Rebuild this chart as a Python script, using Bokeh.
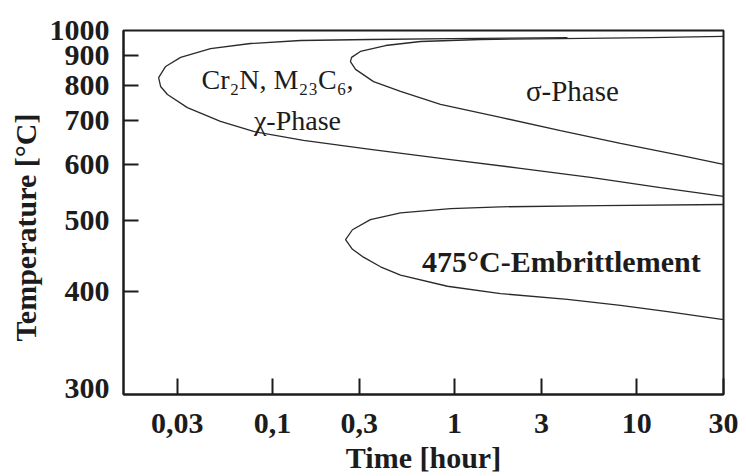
import numpy as np
from bokeh.plotting import figure
from bokeh.models import Range1d, FixedTicker, CustomJSTickFormatter, Label
from bokeh.embed import file_html
from bokeh.resources import INLINE

# ---- data ----
time_ticks = [0.03, 0.1, 0.3, 1, 3, 10, 30]
temp_ticks = [300, 400, 500, 600, 700, 800, 900, 1000]

# Cr2N, M23C6, chi-phase C-curve (top branch -> nose -> lower branch)
chi_time = [4.17, 0.95, 0.345, 0.1425, 0.0757, 0.0457, 0.0313, 0.0259, 0.0237,
            0.0243, 0.0265, 0.0341, 0.0518, 0.0787, 0.148, 0.345, 0.95, 2.30,
            5.58, 13.5, 30]
chi_temp = [970, 966, 962, 958, 946, 926, 893, 861, 824,
            796, 772, 735, 699, 674, 653, 633, 611, 593,
            575, 556, 540]

# sigma-phase C-curve
sig_time = [30, 11.9, 3.82, 1.39, 0.65, 0.418, 0.304, 0.272, 0.268,
            0.286, 0.359, 0.505, 0.837, 1.79, 3.82, 8.15, 17.4, 30]
sig_temp = [975, 970, 966, 962, 954, 938, 915, 893, 878,
            851, 811, 781, 744, 709, 676, 646, 620, 601]

# 475 °C embrittlement C-curve
emb_time = [30, 6.33, 1.79, 0.95, 0.505, 0.345, 0.275, 0.252,
            0.275, 0.316, 0.392, 0.505, 0.914, 1.79, 4.17, 8.15, 14.8, 30]
emb_temp = [526, 524, 522, 519, 512, 501, 485, 470,
            456, 445, 432, 421, 407, 398, 391, 384, 377, 368]


def inv_t(t):
    """Reciprocal absolute temperature scale (10^4 / K)."""
    return 1e4 / (np.asarray(t, dtype=float) + 273.0)


INK = "#1c1c1c"
SERIF = "Liberation Serif"

p = figure(width=746, height=476, x_axis_type="log",
           x_range=Range1d(0.0152, 30),
           y_range=Range1d(float(inv_t(295)), float(inv_t(1000))),
           output_backend="svg", toolbar_location=None,
           min_border_left=123, min_border_right=23,
           min_border_top=30, min_border_bottom=81,
           background_fill_color="white", border_fill_color="white")

p.outline_line_color = INK
p.outline_line_width = 2
p.xgrid.visible = False
p.ygrid.visible = False

for t, T in [(chi_time, chi_temp), (sig_time, sig_temp), (emb_time, emb_temp)]:
    p.line(t, inv_t(T), line_color="#2a2a2a", line_width=1.3)

# x axis
xa = p.xaxis[0]
xa.ticker = FixedTicker(ticks=time_ticks, minor_ticks=[])
xa.formatter = CustomJSTickFormatter(code="return String(tick).replace('.', ',');")
xa.axis_line_color = INK
xa.axis_line_width = 2
xa.major_tick_in = 16
xa.major_tick_out = 0
xa.major_tick_line_width = 2
xa.major_tick_line_color = INK
xa.minor_tick_line_color = None
xa.major_label_standoff = 19
xa.major_label_text_font = SERIF
xa.major_label_text_font_style = "bold"
xa.major_label_text_font_size = "30px"
xa.major_label_text_color = INK
xa.axis_label = "Time [hour]"
xa.axis_label_standoff = 5
xa.axis_label_text_font = SERIF
xa.axis_label_text_font_style = "bold"
xa.axis_label_text_font_size = "30px"
xa.axis_label_text_color = INK

# y axis (labels at every temperature, tick marks inside for the inner ones)
ya = p.yaxis[0]
ya.ticker = FixedTicker(ticks=list(inv_t(temp_ticks)),
                        minor_ticks=list(inv_t(temp_ticks[1:-1])))
ya.formatter = CustomJSTickFormatter(code="return String(Math.round(1e4 / tick - 273));")
ya.axis_line_color = INK
ya.axis_line_width = 2
ya.major_tick_in = 0
ya.major_tick_out = 0
ya.minor_tick_in = 15
ya.minor_tick_out = 0
ya.minor_tick_line_width = 2
ya.minor_tick_line_color = INK
ya.major_label_standoff = 14
ya.major_label_text_font = SERIF
ya.major_label_text_font_style = "bold"
ya.major_label_text_font_size = "30px"
ya.major_label_text_color = INK
ya.axis_label = "Temperature [°C]\u00a0\u00a0\u00a0\u00a0"
ya.axis_label_standoff = 5
ya.axis_label_text_font = SERIF
ya.axis_label_text_font_style = "bold"
ya.axis_label_text_font_size = "30px"
ya.axis_label_text_color = INK

# annotations
labels = [
    ("Cr₂N, M₂₃C₆,", 0.1066, 818, "normal", "28px"),
    ("χ-Phase", 0.1372, 701, "normal", "28px"),
    ("σ-Phase", 4.44, 781, "normal", "29px"),
    ("475°C-Embrittlement", 3.86, 439, "bold", "30px"),
]
for txt, x, T, style, size in labels:
    p.add_layout(Label(x=x, y=float(inv_t(T)), text=txt, text_font=SERIF,
                       text_font_style=style, text_font_size=size,
                       text_color=INK, text_align="center",
                       text_baseline="alphabetic"))

open("out.html", "w").write(file_html(p, INLINE))
